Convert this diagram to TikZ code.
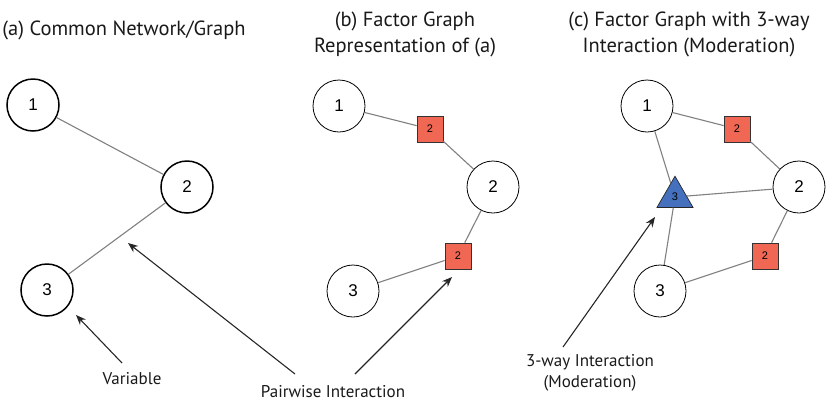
\documentclass[tikz,border=0pt]{standalone}
\usepackage{fontspec}
\setmainfont{PT Sans}
\newfontfamily\numfont{Liberation Sans}
\usetikzlibrary{arrows.meta,shapes.geometric}

\definecolor{facred}{RGB}{240,104,84}
\definecolor{facblue}{RGB}{68,112,190}
\definecolor{edgegray}{RGB}{128,128,128}

\begin{document}
\begin{tikzpicture}[x=1pt,y=-1pt,>=Stealth,
    % ---- styles ----
    V/.style={circle, draw=black, line width=0.8pt, minimum size=52pt,
              inner sep=0pt, font=\numfont\fontsize{17}{17}\selectfont},
    Vb/.style={V, line width=1.5pt},
    F/.style={rectangle, draw=black!80, fill=facred, line width=0.7pt,
              minimum size=26pt, inner sep=0pt,
              font=\numfont\fontsize{11}{11}\selectfont},
    M/.style={regular polygon, regular polygon sides=3, draw=black!85,
              fill=facblue, line width=0.7pt, minimum size=41.6pt,
              inner sep=0pt, font=\numfont\fontsize{11}{11}\selectfont},
    E/.style={draw=edgegray, line width=1.1pt},
    A/.style={-{Stealth[length=10pt, width=8pt]}, line width=1.1pt,
              color=black!85},
    T/.style={font=\fontsize{20.5}{26}\selectfont, align=center, text=black!90},
    L/.style={font=\fontsize{17}{21}\selectfont, align=center, text=black!90,
              inner sep=0pt},
]
\useasboundingbox (0,0) rectangle (831,416);

% ===== Titles =====
\node[T] (ta) at (124, 30) {(a) Common Network/Graph};
\node[T] (tb) at (405, 34) {(b) Factor Graph\\Representation of (a)};
\node[T] (tc) at (689, 34) {(c) Factor Graph with 3-way\\Interaction (Moderation)};

% ===== Panel (a): common network =====
\node[Vb] (a1) at (33, 105) {1};
\node[Vb] (a2) at (187, 187) {2};
\node[Vb] (a3) at (47, 290) {3};
\draw[E] (a1) -- (a2);
\draw[E] (a2) -- (a3);

% ===== Panel (b): factor graph =====
\node[V] (b1) at (339, 106) {1};
\node[F] (bf12) at (430, 129) {2};
\node[V] (b2) at (493, 187) {2};
\node[F] (bf23) at (458, 256) {2};
\node[V] (b3) at (353, 291) {3};
\foreach \a/\b in {b1/bf12, bf12/b2, b2/bf23, bf23/b3}
    \draw[E] (\a) -- (\b);

% ===== Panel (c): factor graph with 3-way =====
\node[V] (c1) at (647, 106) {1};
\node[F] (cf12) at (737, 129) {2};
\node[V] (c2) at (799, 187) {2};
\node[F] (cf23) at (765, 256) {2};
\node[V] (c3) at (660, 291) {3};
\node[M] (cm) at (675, 197) {3};
\foreach \a/\b in {c1/cf12, cf12/c2, c2/cf23, cf23/c3, c1/cm, cm/c2, cm/c3}
    \draw[E] (\a) -- (\b);

% ===== Labels and pointers =====
\node[L, anchor=north] (lvar)  at (132, 372) {Variable};
\node[L, anchor=north] (lpair) at (333, 385) {Pairwise Interaction};
\node[L, anchor=north] (lmod)  at (590, 354) {3-way Interaction\\(Moderation)};

\coordinate (pv)  at (76, 315);
\coordinate (pp1) at (128, 243);
\coordinate (pp2) at (452, 277);
\coordinate (pm)  at (655, 217);

\draw[A] ([xshift=-10pt, yshift=9pt]lvar.north) -- (pv);
\draw[A] ([xshift=-38pt, yshift=11pt]lpair.north) -- (pp1);
\draw[A] ([xshift=22pt, yshift=11pt]lpair.north) -- (pp2);
\draw[A] ([xshift=-27pt, yshift=7pt]lmod.north) -- (pm);

\end{tikzpicture}
\end{document}
